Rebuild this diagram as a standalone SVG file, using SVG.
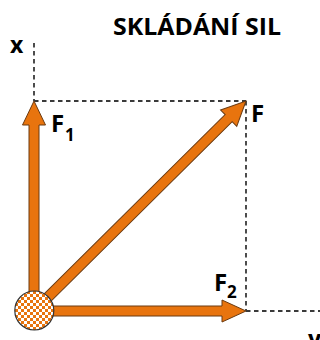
<svg xmlns="http://www.w3.org/2000/svg" width="320" height="340" viewBox="0 0 320 340">
  <style>
    .dash { stroke: #3a3a3a; stroke-width: 1.8; stroke-dasharray: 4.5 3.5; fill: none; }
    .arrow { fill: #E8740E; stroke: #6B3A10; stroke-width: 1; stroke-linejoin: miter; }
    .lbl { font-family: "Open Sans", Lato, "Liberation Sans", sans-serif; font-weight: bold; fill: #000; }
  </style>
  <defs>
    <pattern id="checker" x="0" y="0" width="6" height="6" patternUnits="userSpaceOnUse">
      <rect width="6" height="6" fill="#ffffff"/>
      <rect width="3" height="3" fill="#E8740E"/>
      <rect x="3" y="3" width="3" height="3" fill="#E8740E"/>
    </pattern>
  </defs>
  <rect width="320" height="340" fill="#ffffff"/>

  <g id="title">
    <text class="lbl" x="113" y="35" font-size="23" textLength="168" lengthAdjust="spacingAndGlyphs">SKLÁDÁNÍ SIL</text>
  </g>

  <g id="axes">
    <line class="dash" x1="34" y1="43" x2="34" y2="101"/>
    <line class="dash" x1="34" y1="101" x2="246" y2="101"/>
    <line class="dash" x1="246" y1="101" x2="246" y2="311"/>
    <line class="dash" x1="246" y1="311" x2="320" y2="311"/>
    <text class="lbl" x="10" y="53" font-size="23">x</text>
    <text class="lbl" x="308" y="347" font-size="23">y</text>
  </g>

  <g id="connectors">
    <polygon id="F1-arrow" class="arrow" points="29,305 29,125 22.5,125 34,101 45.5,125 39,125 39,305"/>
    <polygon id="F2-arrow" class="arrow" points="40,306 222,306 222,300 246,311 222,322 222,316 40,316"/>
    <polygon id="F-arrow" class="arrow" transform="translate(34,311) rotate(-44.73)" points="0,-5 274,-5 274,-11.5 298.4,0 274,11.5 274,5 0,5"/>
  </g>

  <g id="origin">
    <circle cx="34.3" cy="310.5" r="19.5" fill="url(#checker)" stroke="#333333" stroke-width="1.2"/>
  </g>

  <g id="label-F1">
    <text class="lbl" x="51" y="132" font-size="24">F</text>
    <text class="lbl" x="65" y="141" font-size="17">1</text>
  </g>
  <g id="label-F2">
    <text class="lbl" x="214" y="291" font-size="24">F</text>
    <text class="lbl" x="227" y="298" font-size="17">2</text>
  </g>
  <g id="label-F">
    <text class="lbl" x="251" y="122" font-size="24">F</text>
  </g>
</svg>
